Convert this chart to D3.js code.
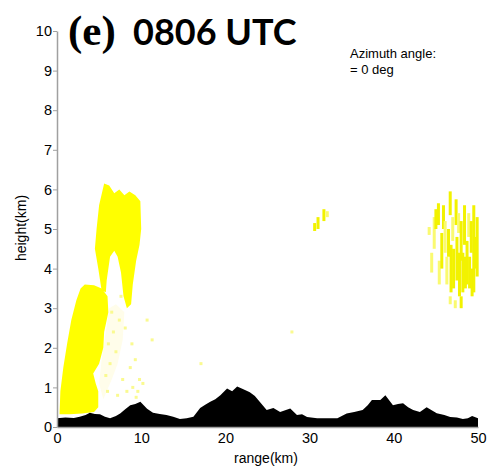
<!DOCTYPE html>
<html>
<head>
<meta charset="utf-8">
<script src="https://cdn.jsdelivr.net/npm/d3@7"></script>
<style>
  body { margin: 0; background: #fff; }
  svg { display: block; }
</style>
</head>
<body>
<script>
const W = 492, H = 468;

// terrain profile along the beam (range km, height km)
const terrainRange = [0, 1, 2, 2.7, 3.4, 3.9, 4.5, 5.1, 5.7, 6.3, 7, 7.5, 8.1, 8.7, 9.3, 9.9, 10.3, 10.7, 11.4, 12.2, 13, 13.8, 14.6, 15.4, 16.2, 17, 17.6, 18.2, 18.8, 19.4, 20.2, 20.8, 21.4, 22.2, 22.9, 23.5, 24.1, 24.9, 25.7, 26.5, 27.1, 27.7, 28.5, 29.1, 29.7, 30.9, 32, 33.3, 34.4, 35.3, 36.3, 36.9, 37.4, 38.4, 39, 39.9, 40.5, 41.1, 41.7, 42.3, 43.1, 43.9, 44.5, 45.1, 46, 46.7, 47.5, 48.2, 48.8, 49.3, 50];
const terrainHeight = [0.22, 0.24, 0.23, 0.26, 0.3, 0.36, 0.33, 0.32, 0.26, 0.22, 0.28, 0.34, 0.45, 0.55, 0.58, 0.64, 0.55, 0.46, 0.36, 0.33, 0.3, 0.26, 0.2, 0.22, 0.26, 0.48, 0.56, 0.64, 0.7, 0.8, 0.97, 0.9, 1.02, 0.95, 0.88, 0.78, 0.63, 0.43, 0.48, 0.38, 0.42, 0.47, 0.3, 0.32, 0.25, 0.22, 0.22, 0.22, 0.34, 0.38, 0.43, 0.55, 0.68, 0.68, 0.8, 0.55, 0.58, 0.6, 0.5, 0.43, 0.38, 0.5, 0.42, 0.35, 0.3, 0.25, 0.24, 0.2, 0.22, 0.28, 0.22];

// dense echo regions as outlines (range km, height km)
const echoWedge = [[0.3, 0.32], [0.4, 0.9], [0.75, 1.5], [1.2, 2.1], [1.7, 2.7], [2.3, 3.2], [2.8, 3.5], [3.3, 3.6], [4.4, 3.58], [5.3, 3.5], [6.0, 3.3], [6.1, 2.9], [5.6, 2.4], [5.5, 2.0], [5.0, 1.6], [4.3, 1.35], [4.6, 1.1], [4.9, 0.9], [4.9, 0.5], [4.4, 0.38], [3.0, 0.34], [1.5, 0.32]];
const echoColumn = [[5.3, 3.45], [4.9, 4.0], [4.5, 4.5], [4.7, 5.0], [5.0, 5.6], [5.6, 6.15], [6.2, 6.1], [6.8, 5.9], [7.4, 6.0], [8.0, 5.85], [8.6, 5.95], [9.3, 5.85], [9.9, 5.7], [10.0, 5.0], [9.8, 4.6], [9.4, 4.2], [9.0, 3.6], [8.8, 3.1], [8.3, 3.0], [7.9, 3.3], [7.6, 3.9], [7.2, 4.3], [6.8, 4.45], [6.3, 4.3], [5.9, 3.7], [5.8, 3.4]];
// weak haze right of the wedge
const echoHaze = [[5.5, 0.7], [6.5, 1.2], [7.2, 1.6], [7.8, 2.2], [8.0, 2.9], [7.0, 3.1], [6.2, 3.0], [5.8, 2.4], [5.3, 1.7], [5.0, 1.1]];

// thin vertical echo streaks: [range km, bottom km, top km, strong(1)/weak(0)]
const streaks = [
  [30.6, 4.95, 5.15, 1], [31.0, 5.0, 5.3, 1], [31.7, 5.2, 5.5, 1], [32.1, 5.3, 5.45, 0],
  [44.2, 4.85, 5.05, 0], [44.5, 3.9, 4.4, 0], [44.8, 4.5, 5.3, 0], [45.0, 5.0, 5.5, 1],
  [45.3, 5.1, 5.65, 1], [45.4, 3.6, 4.2, 0], [45.7, 4.0, 4.9, 1], [45.9, 5.0, 5.6, 1],
  [46.1, 4.4, 5.2, 0], [46.3, 3.6, 4.3, 0], [46.5, 4.3, 5.0, 1], [46.7, 5.35, 5.95, 1],
  [46.8, 3.4, 4.6, 1], [47.0, 4.7, 5.3, 0], [47.1, 3.5, 4.5, 1], [47.4, 5.1, 5.75, 1],
  [47.5, 3.7, 4.8, 1], [47.7, 4.9, 5.4, 0], [47.8, 3.3, 4.4, 1], [48.0, 4.2, 5.2, 1],
  [48.2, 3.4, 4.4, 1], [48.4, 4.6, 5.6, 1], [48.5, 3.5, 4.3, 1], [48.7, 3.6, 4.7, 1],
  [48.9, 4.8, 5.4, 0], [49.0, 3.5, 4.3, 1], [49.2, 4.4, 5.2, 1], [49.3, 3.3, 4.0, 1],
  [49.5, 3.4, 5.6, 1], [49.7, 4.0, 4.8, 1], [49.9, 3.8, 5.3, 1],
  [46.7, 3.1, 3.3, 0], [48.0, 3.0, 3.3, 1], [47.3, 3.0, 3.2, 0]
];

// scattered weak returns: [range km, height km]
const speckles = [
  [5.8, 1.3], [6.3, 1.6], [6.1, 2.1], [6.7, 2.4], [7.0, 1.9], [7.4, 2.7], [6.5, 2.9],
  [7.8, 1.2], [8.3, 0.9], [9.0, 1.0], [9.4, 0.75], [9.8, 1.2], [8.7, 1.5], [9.3, 1.7],
  [10.7, 2.7], [11.3, 2.2], [7.2, 0.8], [6.0, 0.9], [17.1, 1.6], [27.9, 2.4],
  [8.1, 2.5], [8.9, 2.1], [10.2, 1.1], [9.6, 0.9], [5.6, 3.05], [7.6, 3.3]
];

const yTicks = d3.range(0, 11);
const xTicks = [0, 10, 20, 30, 40, 50];

const x = d3.scaleLinear([0, 50], [57, 478]);
const y = d3.scaleLinear([0, 10], [427, 31]);

const svg = d3.select("body").append("svg")
  .attr("width", W).attr("height", H)
  .attr("viewBox", [0, 0, W, H]);

const line = d3.line().x(d => x(d[0])).y(d => y(d[1])).curve(d3.curveLinearClosed);

svg.append("path")
  .attr("d", line(echoHaze))
  .attr("fill", "#fffdea");

svg.selectAll("rect.speck")
  .data(speckles)
  .join("rect")
  .attr("class", "speck")
  .attr("fill", "#fafa90")
  .attr("x", d => x(d[0]) - 1.5)
  .attr("y", d => y(d[1]) - 1.5)
  .attr("width", 3)
  .attr("height", 3);

const echo = svg.append("g").attr("fill", "#ffff00");
[echoWedge, echoColumn].forEach(poly => {
  echo.append("path").attr("d", line(poly));
});

echo.selectAll("rect.streak")
  .data(streaks)
  .join("rect")
  .attr("class", "streak")
  .attr("fill", d => d[3] ? "#f2f200" : "#fafa70")
  .attr("x", d => x(d[0]) - 1.5)
  .attr("y", d => y(d[2]))
  .attr("width", 3)
  .attr("height", d => y(d[1]) - y(d[2]));

const area = d3.area()
  .x((d, i) => x(terrainRange[i]))
  .y0(y(0))
  .y1(d => y(d));
svg.append("path")
  .attr("d", area(terrainHeight))
  .attr("fill", "#000");

const yAxis = svg.append("g")
  .attr("transform", `translate(${x(0)},0)`)
  .call(d3.axisLeft(y).tickValues(yTicks).tickSize(4).tickSizeOuter(0).tickPadding(1));
const xAxis = svg.append("g")
  .attr("transform", `translate(0,${y(0)})`)
  .call(d3.axisBottom(x).tickValues(xTicks).tickSize(0).tickSizeOuter(0).tickPadding(6));

[yAxis, xAxis].forEach(g => {
  g.select(".domain").attr("stroke", "#a0a0a0").attr("stroke-width", 1.5);
  g.selectAll(".tick line").attr("stroke", "#a0a0a0");
  g.selectAll(".tick text")
    .attr("fill", "#000")
    .attr("font-family", "'Liberation Sans', Arial, sans-serif")
    .attr("font-size", 14.5);
});

svg.append("text")
  .attr("transform", `translate(26,228) rotate(-90)`)
  .attr("text-anchor", "middle")
  .attr("font-family", "'Liberation Sans', Arial, sans-serif")
  .attr("font-size", 14)
  .text("height(km)");

svg.append("text")
  .attr("x", 266).attr("y", 463)
  .attr("text-anchor", "middle")
  .attr("font-family", "'Liberation Sans', Arial, sans-serif")
  .attr("font-size", 14)
  .text("range(km)");

svg.append("text")
  .attr("x", 68).attr("y", 45)
  .attr("font-family", "'Liberation Serif', 'Times New Roman', Times, 'DejaVu Serif', serif")
  .attr("font-weight", "bold")
  .attr("font-size", 43)
  .text("(e)");
svg.append("text")
  .attr("x", 133).attr("y", 45)
  .attr("font-family", "Lato, 'Open Sans', sans-serif")
  .attr("font-weight", "bold")
  .attr("font-size", 36)
  .text("0806 UTC");

const note = svg.append("g")
  .attr("font-family", "'Liberation Sans', Arial, sans-serif")
  .attr("font-size", 13);
note.append("text").attr("x", 350).attr("y", 58).text("Azimuth angle:");
note.append("text").attr("x", 350).attr("y", 74).text("= 0 deg");
</script>
</body>
</html>
